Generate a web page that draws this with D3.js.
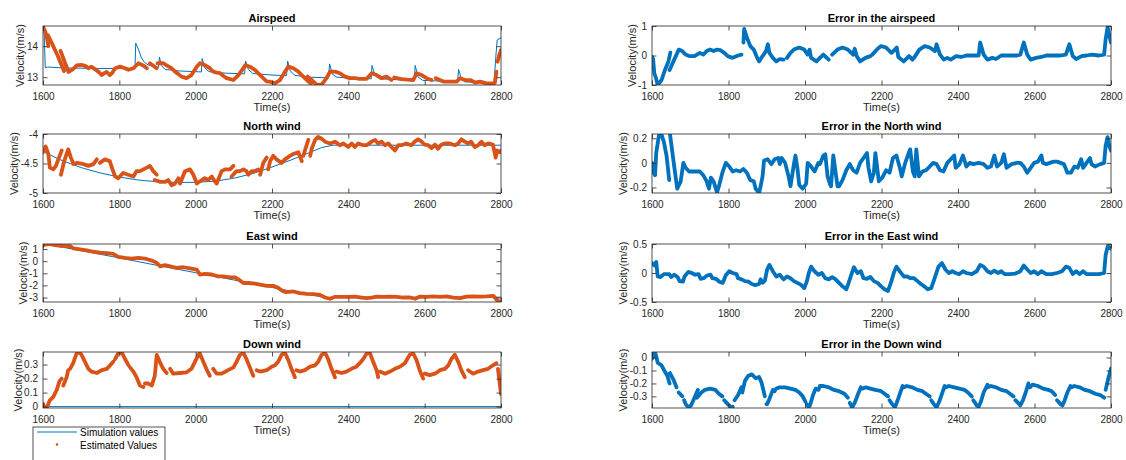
<!DOCTYPE html>
<html>
<head>
<meta charset="utf-8">
<script src="https://cdn.jsdelivr.net/npm/d3@7"></script>
<style>
  body { margin: 0; background: #fff; }
  svg text { font-family: "Liberation Sans", Arial, Helvetica, sans-serif; }
</style>
</head>
<body>
<svg id="fig" width="1126" height="460"></svg>
<script>
// ---- shared axis data ----
const timeTicks = [1600, 1800, 2000, 2200, 2400, 2600, 2800];
const timeDomain = [1600, 2800];

// ---- Airspeed (m/s): [time, value], null = break in the estimate trace ----
const airspeedSim = [[1600,14.6],[1603,14.45],[1606,13.3],[1612,13.33],[1650,13.3],[1700,13.29],[1750,13.28],[1800,13.28],[1841,13.28],[1843,14.1],[1850,13.9],[1858,13.62],[1866,13.48],[1875,13.4],[1890,13.34],[1903,13.32],[1905,13.65],[1910,13.38],[1920,13.25],[1960,13.2],[2000,13.18],[2015,13.17],[2017,13.6],[2024,13.3],[2035,13.18],[2080,13.13],[2128,13.11],[2131,13.52],[2138,13.25],[2150,13.12],[2200,13.07],[2238,13.05],[2241,13.52],[2248,13.2],[2260,13.06],[2300,13.0],[2348,12.98],[2351,13.43],[2358,13.1],[2370,13.0],[2420,12.97],[2460,12.95],[2462,13.38],[2470,13.05],[2482,12.95],[2530,12.92],[2573,12.9],[2575,13.38],[2583,13.0],[2595,12.9],[2650,12.87],[2686,12.86],[2689,13.25],[2696,12.95],[2705,12.85],[2750,12.83],[2782,12.82],[2786,13.6],[2790,14.2],[2800,14.27]];
const airspeedEst = [[1600,14.64],[1605,14.5],[1610,14.3],[1614,14.0],null,
  [1613,14.35],[1625,14.05],[1640,13.65],[1655,13.2],null,
  [1646,13.85],[1658,13.45],[1667,13.17],[1678,13.25],[1688,13.38],[1700,13.4],[1712,13.36],[1719,13.29],[1727,13.34],[1736,13.26],[1745,13.18],[1754,13.07],[1762,13.14],[1767,13.17],[1775,13.07],[1782,13.15],[1789,13.29],[1802,13.34],[1815,13.29],[1824,13.24],[1837,13.29],[1850,13.45],[1863,13.38],[1872,13.29],null,
  [1880,13.45],[1890,13.36],[1898,13.29],null,
  [1900,13.45],[1915,13.45],[1924,13.38],[1937,13.29],[1946,13.18],[1955,13.1],[1963,13.02],[1976,12.97],[1989,13.07],[2003,13.34],[2011,13.45],[2024,13.39],[2037,13.29],[2046,13.18],[2055,13.15],[2064,13.13],[2072,13.05],[2081,12.97],[2099,12.91],[2112,13.07],[2125,13.29],[2130,13.39],[2142,13.34],[2155,13.24],[2169,13.07],[2182,12.91],[2187,12.86],null,
  [2193,12.86],[2208,12.81],[2221,12.91],[2234,13.18],[2243,13.34],[2256,13.29],[2269,13.18],[2278,13.07],[2291,12.91],[2302,12.8],null,
  [2293,13.02],[2305,12.9],[2317,12.76],[2330,12.76],[2343,12.97],[2352,13.18],[2365,13.18],[2378,13.13],[2391,13.02],[2404,12.97],[2417,12.97],[2430,12.95],[2448,12.95],[2461,13.13],[2474,13.07],[2487,12.97],[2500,13.02],[2513,12.91],null,
  [2520,12.99],[2540,12.94],[2555,12.92],[2570,12.91],[2579,13.13],[2592,13.07],[2605,12.97],[2618,12.91],null,
  [2629,12.97],[2649,12.86],[2665,12.86],[2684,12.86],[2693,12.97],[2706,12.91],[2719,12.91],[2732,12.83],[2745,12.86],[2762,12.8],[2780,12.8],[2784,12.82],[2788,13.18],null,
  [2791,13.5],[2795,13.7],[2800,13.87]];

// ---- North wind (m/s) ----
const northSim = [[1600,-4.3],[1650,-4.45],[1700,-4.57],[1750,-4.66],[1800,-4.73],[1850,-4.78],[1900,-4.81],[1950,-4.82],[2000,-4.82],[2050,-4.8],[2100,-4.75],[2150,-4.67],[2200,-4.56],[2250,-4.44],[2300,-4.31],[2330,-4.23],[2360,-4.19],[2400,-4.19],[2600,-4.19],[2800,-4.19]];
const northEst = [[1600,-4.31],[1607,-4.21],[1614,-4.34],[1618,-4.57],[1627,-4.6],[1634,-4.54],[1640,-4.43],[1649,-4.28],null,
  [1647,-4.69],[1656,-4.45],[1666,-4.26],[1673,-4.4],[1680,-4.51],[1690,-4.49],[1706,-4.51],[1719,-4.54],[1732,-4.51],[1741,-4.43],null,
  [1749,-4.49],[1762,-4.43],[1775,-4.46],[1782,-4.6],[1789,-4.72],[1797,-4.75],[1810,-4.66],[1823,-4.69],[1837,-4.72],[1845,-4.63],[1854,-4.63],[1872,-4.57],[1880,-4.54],[1889,-4.63],[1898,-4.69],null,
  [1893,-4.78],[1906,-4.81],[1920,-4.81],[1928,-4.78],[1937,-4.87],[1946,-4.84],[1955,-4.75],null,
  [1959,-4.84],[1972,-4.63],[1985,-4.6],[1994,-4.69],[2003,-4.84],[2016,-4.78],[2024,-4.75],[2033,-4.78],[2042,-4.72],[2051,-4.81],null,
  [2055,-4.84],[2068,-4.63],[2077,-4.6],[2090,-4.6],[2099,-4.54],null,
  [2094,-4.72],[2107,-4.63],[2116,-4.63],[2125,-4.6],[2133,-4.63],[2138,-4.69],[2147,-4.63],[2155,-4.63],[2164,-4.6],null,
  [2169,-4.69],[2177,-4.49],[2186,-4.4],null,
  [2190,-4.6],[2195,-4.46],[2203,-4.37],[2212,-4.43],[2225,-4.49],[2234,-4.43],[2247,-4.37],[2256,-4.34],[2269,-4.31],[2278,-4.46],null,
  [2282,-4.37],[2295,-4.1],null,
  [2300,-4.37],[2304,-4.25],[2313,-4.1],[2321,-4.05],[2330,-4.08],[2339,-4.13],[2352,-4.16],[2365,-4.13],[2378,-4.19],[2387,-4.16],[2400,-4.22],[2409,-4.16],[2417,-4.22],[2426,-4.16],[2439,-4.19],[2448,-4.19],[2461,-4.13],[2470,-4.1],[2478,-4.16],[2487,-4.13],[2496,-4.19],[2505,-4.16],[2513,-4.22],[2522,-4.28],[2531,-4.19],[2539,-4.19],[2552,-4.16],[2565,-4.19],[2574,-4.13],[2583,-4.09],[2592,-4.13],[2600,-4.18],[2609,-4.19],[2618,-4.24],[2627,-4.18],[2635,-4.25],[2644,-4.18],[2653,-4.16],[2666,-4.16],[2679,-4.19],[2688,-4.16],[2696,-4.09],[2705,-4.13],[2714,-4.16],[2722,-4.13],[2731,-4.22],[2740,-4.19],[2749,-4.13],[2757,-4.19],[2766,-4.16],[2779,-4.18],[2786,-4.4],[2790,-4.28],[2797,-4.31],[2800,-4.28]];

// ---- East wind (m/s) ----
const eastSim = [[1600,1.45],[1700,0.87],[1800,0.27],[1900,-0.35],[2000,-0.95],[2100,-1.55],[2200,-2.17],[2300,-2.77],[2340,-3.0],[2360,-3.0],[2500,-2.98],[2800,-2.97]];
const eastEst = [[1600,1.33],[1610,1.38],[1615,1.42],[1631,1.33],[1653,1.25],[1671,1.25],[1680,1.05],[1697,0.97],[1714,0.9],[1732,0.78],[1749,0.7],[1767,0.67],[1784,0.6],[1797,0.36],[1815,0.28],[1832,0.22],[1850,0.28],[1867,0.22],[1885,0.05],[1898,-0.14],[1907,-0.42],[1920,-0.33],[1933,-0.42],[1950,-0.55],[1968,-0.5],[1985,-0.6],[2003,-0.7],[2011,-1.1],[2024,-1.05],[2042,-1.1],[2059,-1.25],[2072,-1.25],[2090,-1.33],[2103,-1.33],[2112,-1.5],[2125,-1.8],[2138,-1.8],[2155,-1.86],[2169,-1.94],[2186,-2.03],[2203,-2.03],[2216,-2.2],[2230,-2.5],[2238,-2.55],[2256,-2.5],[2273,-2.64],[2291,-2.7],[2308,-2.72],[2326,-2.78],[2339,-3.0],[2352,-3.1],[2365,-2.94],[2382,-2.94],[2400,-2.94],[2417,-2.92],[2435,-3.0],[2448,-3.05],[2461,-3.0],[2474,-2.92],[2492,-2.94],[2509,-2.92],[2527,-2.94],[2544,-3.0],[2562,-3.0],[2575,-3.1],[2588,-2.92],[2605,-2.94],[2623,-2.9],[2640,-2.94],[2658,-2.9],[2675,-3.0],[2693,-3.05],[2710,-2.92],[2727,-2.9],[2745,-2.92],[2762,-2.9],[2780,-2.86],[2789,-3.2],[2797,-3.38],[2800,-3.33]];

// ---- Down wind (m/s) ----
const downSim = [[1600,0],[2800,0]];
const downEst = [[1600,0.02],[1605,-0.015],[1610,-0.01],[1614,0.02],[1618,0.045],[1627,0.07],[1636,0.12],[1643,0.18],[1649,0.2],null,
  [1653,0.15],[1662,0.21],[1666,0.26],null,
  [1671,0.27],[1679,0.31],[1688,0.38],[1694,0.39],[1701,0.37],[1710,0.32],[1719,0.27],[1727,0.25],[1741,0.24],[1754,0.26],[1767,0.27],[1776,0.295],[1784,0.32],null,
  [1789,0.34],[1797,0.38],[1806,0.39],[1815,0.34],[1824,0.295],null,
  [1828,0.28],[1837,0.25],[1845,0.21],[1854,0.15],[1863,0.14],null,
  [1867,0.165],[1876,0.165],[1885,0.15],[1893,0.22],[1898,0.37],[1906,0.32],[1915,0.27],[1924,0.24],null,
  [1933,0.27],[1941,0.235],[1959,0.24],[1976,0.245],[1989,0.27],[1998,0.32],[2007,0.37],[2011,0.38],[2020,0.32],[2028,0.27],[2037,0.22],null,
  [2046,0.27],[2055,0.235],[2068,0.235],[2085,0.26],[2099,0.28],[2107,0.32],[2116,0.37],[2125,0.385],[2133,0.34],[2142,0.28],[2151,0.22],null,
  [2160,0.26],[2169,0.25],[2186,0.26],[2199,0.285],[2208,0.295],[2216,0.32],[2225,0.37],[2234,0.385],[2243,0.33],[2251,0.27],[2260,0.21],null,
  [2264,0.26],[2273,0.25],[2286,0.26],[2300,0.285],[2313,0.295],[2321,0.32],[2330,0.37],[2339,0.385],[2347,0.34],[2356,0.27],[2365,0.21],null,
  [2369,0.25],[2382,0.24],[2395,0.25],[2408,0.27],[2421,0.285],[2430,0.31],[2439,0.34],[2448,0.38],[2457,0.38],[2465,0.32],[2474,0.26],[2478,0.21],null,
  [2483,0.25],[2496,0.235],[2509,0.25],[2522,0.27],[2535,0.285],[2548,0.31],[2561,0.37],[2570,0.38],[2579,0.33],[2587,0.26],[2596,0.2],null,
  [2600,0.235],[2613,0.225],[2627,0.235],[2640,0.26],[2653,0.27],[2662,0.295],[2670,0.34],[2679,0.37],[2688,0.32],[2696,0.26],[2705,0.21],null,
  [2714,0.26],[2727,0.235],[2740,0.25],[2753,0.26],[2766,0.27],[2779,0.295],[2788,0.31],null,
  [2792,0.27],[2796,0.18],[2800,0.09]];

// ---- Estimation errors (m/s) ----
const errAirspeed = [[1600,-0.05],[1603,-0.12],[1606,-0.6],[1610,-0.75],[1615,-1.0],[1625,-0.83],[1634,-0.49],[1643,-0.2],[1648,0.1],null,
  [1646,-0.49],[1656,-0.2],[1670,0.2],[1679,0.15],[1688,0.03],[1697,-0.02],[1711,-0.02],[1725,0.09],[1734,0.03],[1743,0.15],[1752,0.2],[1761,0.15],[1770,0.2],[1779,0.18],[1789,0.09],[1798,-0.02],[1811,-0.08],[1825,0],[1834,0.03],null,
  [1839,0.44],[1841,0.9],[1848,0.61],[1857,0.32],[1866,0.2],[1875,-0.08],[1880,-0.2],[1889,-0.02],[1898,0.15],[1903,0.38],[1907,0.09],[1916,-0.08],[1925,-0.2],[1934,-0.12],[1944,-0.14],null,
  [1953,-0.08],[1962,0.09],[1971,0.2],[1985,0.27],[1998,0.2],[2007,0.03],[2012,0.2],[2016,-0.08],[2030,-0.2],[2039,-0.08],[2048,0.03],[2057,-0.08],[2062,-0.14],null,
  [2071,0.03],[2085,0.2],[2098,0.27],[2112,0.2],[2126,0.03],[2130,0.23],[2135,-0.02],[2144,-0.2],[2158,-0.08],[2171,-0.02],null,
  [2176,0.03],[2190,0.23],[2199,0.32],[2212,0.27],[2226,0.09],[2235,0.2],[2240,0.27],[2244,-0.05],[2258,-0.2],[2272,-0.02],[2281,-0.14],null,
  [2285,-0.08],[2299,0.2],[2313,0.32],[2326,0.27],[2340,0.15],[2344,0.38],[2353,0.03],[2363,-0.14],[2372,-0.08],[2381,-0.14],[2395,-0.02],[2408,-0.05],[2422,0],[2440,0],[2454,0],[2458,0.44],[2467,0.03],[2477,-0.14],[2490,-0.08],[2499,-0.12],[2513,0],[2531,0],[2554,0],[2563,0.03],[2572,0.44],[2581,0.03],[2590,-0.14],[2604,-0.08],[2618,-0.05],[2631,0],[2650,0],[2668,0],[2682,0.03],[2691,0.38],[2700,-0.02],[2709,-0.12],[2723,-0.02],[2736,0],[2750,0.03],[2768,0],[2782,0.03],[2786,0.55],[2791,0.96],[2795,0.73],[2800,0.44]];
const errNorth = [[1600,0],[1604,-0.08],[1608,-0.1],[1611,0.08],[1618,0.22],[1625,0.23],[1631,0.17],[1638,0.06],[1645,-0.14],null,
  [1647,0.235],[1656,0.02],[1666,-0.21],[1675,-0.15],[1682,0],[1688,-0.04],[1697,-0.07],[1711,-0.07],[1725,-0.07],[1734,-0.1],[1743,-0.15],[1749,-0.21],[1754,-0.12],[1761,-0.15],[1770,-0.24],[1775,-0.19],[1784,-0.08],[1793,0],[1802,-0.03],[1811,-0.07],[1820,-0.06],[1830,-0.07],[1839,-0.05],[1848,-0.08],[1857,-0.14],[1866,-0.15],[1871,-0.21],[1880,-0.245],[1884,-0.19],[1889,-0.11],[1893,0.02],[1902,0.03],[1912,-0.01],[1921,0.03],[1930,0.04],[1934,-0.01],[1939,0.04],[1948,0],[1957,-0.11],[1962,-0.19],[1966,-0.11],[1971,-0.01],[1975,0.06],[1980,-0.04],[1985,-0.18],[1994,-0.21],[2003,-0.17],[2007,0],[2016,-0.03],[2025,-0.07],[2035,0],[2039,-0.01],[2048,0.06],[2053,0.07],[2059,-0.11],[2065,-0.17],[2068,-0.19],[2074,0.06],[2085,-0.19],[2089,-0.19],[2098,-0.14],[2108,-0.06],[2117,-0.01],[2126,-0.06],[2135,-0.08],[2144,0],[2153,0.04],[2162,0.08],[2166,-0.04],[2173,-0.15],[2180,-0.08],[2184,0.08],[2193,-0.15],[2202,-0.12],[2212,-0.06],[2221,-0.08],[2230,0.04],[2239,0.06],[2248,-0.04],[2253,-0.11],[2262,0],[2271,0.08],[2275,0.11],[2282,-0.07],[2287,-0.11],[2291,0.11],[2298,-0.11],[2307,-0.07],[2316,-0.06],[2326,-0.03],[2335,0],[2344,-0.01],[2353,-0.06],[2362,-0.07],[2372,0],[2381,0.03],[2390,0.06],[2394,-0.04],[2404,-0.01],[2413,0.06],[2422,-0.03],[2431,0],[2440,-0.01],[2454,0],[2467,-0.01],[2477,-0.04],[2486,-0.03],[2495,0.06],[2502,-0.03],[2513,0],[2520,0.07],[2527,-0.04],[2540,-0.01],[2554,0],[2563,0],[2572,-0.03],[2581,-0.08],[2590,-0.04],[2599,0],[2609,0.01],[2618,0.06],[2622,0],[2631,-0.01],[2640,0],[2650,0.01],[2659,0.01],[2668,0],[2677,-0.01],[2686,-0.08],[2695,-0.08],[2704,-0.03],[2713,-0.04],[2722,0.03],[2727,-0.04],[2736,0],[2745,0.04],[2749,-0.01],[2758,-0.03],[2772,-0.01],[2782,0],[2786,0.14],[2791,0.21],[2795,0.14],[2800,0.1]];
const errEast = [[1600,0.17],[1606,0.13],[1611,0.19],[1615,-0.06],[1622,-0.07],[1631,-0.02],[1645,-0.02],[1650,-0.07],[1658,-0.03],[1667,-0.07],[1672,-0.14],[1681,-0.15],[1685,-0.06],[1695,0.02],[1704,0],[1713,-0.03],[1722,-0.02],[1727,-0.1],[1735,-0.09],[1745,-0.04],[1753,-0.03],[1758,-0.09],[1767,-0.1],[1776,-0.15],[1785,-0.17],[1793,-0.04],[1802,0.03],[1811,0],[1821,-0.02],[1825,-0.09],[1834,-0.11],[1843,-0.14],[1852,-0.15],[1861,-0.19],[1870,-0.21],[1880,-0.19],[1884,-0.11],[1889,-0.17],[1895,-0.13],[1901,0.06],[1907,0.14],[1916,0.03],[1925,-0.06],[1934,-0.03],[1944,-0.11],[1953,-0.06],[1962,-0.09],[1971,-0.14],[1980,-0.17],[1989,-0.2],[1998,-0.26],[2005,-0.14],[2010,0],[2016,0.11],[2025,0.03],[2035,-0.03],[2044,0],[2053,-0.09],[2062,-0.11],[2071,-0.07],[2080,-0.11],[2089,-0.17],[2098,-0.23],[2108,-0.28],[2114,-0.17],[2121,-0.03],[2128,0.1],[2137,0],[2146,0.03],[2153,-0.09],[2162,-0.1],[2171,-0.07],[2180,-0.14],[2190,-0.17],[2199,-0.23],[2208,-0.28],[2217,-0.31],[2226,-0.14],[2232,0],[2239,0.11],[2248,0.03],[2258,-0.06],[2267,-0.06],[2276,-0.09],[2285,-0.09],[2294,-0.14],[2303,-0.19],[2312,-0.23],[2321,-0.28],[2330,-0.26],[2339,-0.09],[2349,0.11],[2358,0.17],[2367,0.06],[2376,0],[2385,0.03],[2394,0],[2403,-0.02],[2413,0.03],[2422,0],[2436,-0.02],[2449,0.03],[2458,0.14],[2467,0.11],[2477,0.03],[2486,0],[2495,0.04],[2504,0],[2513,0.03],[2522,-0.02],[2536,-0.02],[2550,-0.01],[2563,0.03],[2572,0.13],[2581,0.06],[2590,0],[2599,0.03],[2609,-0.02],[2618,0.03],[2631,-0.02],[2645,-0.02],[2659,0],[2672,0.03],[2682,0.11],[2691,0.09],[2700,-0.02],[2709,0.03],[2718,-0.02],[2727,0.03],[2736,-0.02],[2750,-0.02],[2768,-0.02],[2782,0],[2786,0.31],[2791,0.45],[2795,0.45],[2800,0.42]];
const errDown = [[1600,-0.01],[1604,0.02],[1608,0.04],[1611,0.01],[1615,-0.04],[1625,-0.06],[1634,-0.11],[1640,-0.14],[1646,-0.2],null,
  [1647,-0.12],[1656,-0.17],[1664,-0.23],null,
  [1670,-0.27],[1679,-0.3],null,
  [1684,-0.33],[1688,-0.36],[1695,-0.385],[1702,-0.37],[1711,-0.31],[1720,-0.25],null,
  [1718,-0.31],[1729,-0.27],[1738,-0.25],[1752,-0.24],[1766,-0.25],[1775,-0.28],[1784,-0.3],null,
  [1789,-0.33],[1798,-0.36],[1807,-0.385],[1811,-0.38],null,
  [1816,-0.33],[1825,-0.29],[1834,-0.23],null,
  [1836,-0.27],[1843,-0.18],[1852,-0.14],[1861,-0.13],[1871,-0.16],[1880,-0.15],[1886,-0.19],[1891,-0.25],[1895,-0.3],null,
  [1899,-0.36],[1901,-0.36],[1907,-0.32],[1916,-0.25],[1921,-0.26],null,
  [1925,-0.24],[1934,-0.23],[1948,-0.23],[1962,-0.24],[1975,-0.25],[1985,-0.27],[1994,-0.3],[2001,-0.34],null,
  [2005,-0.36],[2010,-0.385],[2014,-0.36],[2021,-0.29],[2028,-0.24],null,
  [2035,-0.25],[2039,-0.22],[2048,-0.22],[2062,-0.23],[2075,-0.25],[2089,-0.26],[2103,-0.28],[2112,-0.31],null,
  [2117,-0.35],[2123,-0.385],[2130,-0.35],[2139,-0.28],[2146,-0.23],null,
  [2150,-0.24],[2159,-0.23],[2171,-0.24],[2184,-0.25],[2199,-0.26],[2208,-0.28],[2217,-0.3],null,
  [2221,-0.33],[2228,-0.36],[2235,-0.385],[2241,-0.34],[2248,-0.28],[2255,-0.22],null,
  [2259,-0.23],[2266,-0.22],[2280,-0.23],[2294,-0.25],[2307,-0.26],[2316,-0.28],[2326,-0.3],null,
  [2330,-0.33],[2337,-0.36],[2344,-0.385],[2351,-0.34],[2358,-0.28],[2365,-0.22],null,
  [2369,-0.23],[2376,-0.22],[2390,-0.23],[2404,-0.24],[2417,-0.25],[2426,-0.27],[2436,-0.3],null,
  [2440,-0.33],[2449,-0.37],[2454,-0.38],[2460,-0.34],[2467,-0.27],[2477,-0.21],null,
  [2478,-0.23],[2486,-0.22],[2499,-0.23],[2513,-0.25],[2527,-0.26],[2536,-0.28],[2545,-0.3],null,
  [2550,-0.33],[2557,-0.35],[2563,-0.37],[2570,-0.33],[2577,-0.27],[2584,-0.2],null,
  [2588,-0.23],[2595,-0.21],[2609,-0.22],[2622,-0.24],[2636,-0.25],[2645,-0.26],[2654,-0.29],null,
  [2659,-0.33],[2668,-0.36],[2673,-0.37],[2679,-0.33],[2686,-0.27],[2694,-0.22],null,
  [2697,-0.23],[2704,-0.22],[2718,-0.23],[2731,-0.25],[2745,-0.26],[2759,-0.28],[2772,-0.29],null,
  [2777,-0.3],[2782,-0.31],null,
  [2786,-0.25],[2793,-0.16],[2800,-0.085]];

// ---- y-axis tick values per subplot ----
const airspeedTicks = [13, 14];
const northTicks = [-5, -4.5, -4];
const eastTicks = [-3, -2, -1, 0, 1];
const downTicks = [0, 0.1, 0.2, 0.3];
const errAirspeedTicks = [-1, 0, 1];
const errNorthTicks = [-0.2, 0, 0.2];
const errEastTicks = [-0.5, 0, 0.5];
const errDownTicks = [-0.3, -0.2, -0.1, 0];

const legendLabels = ["Simulation values", "Estimated Values"];

// ---- layout ----
const BLUE = "#0072BD", ORANGE = "#D95319", INK = "#262626";
const cols = [{ x0: 43, x1: 501 }, { x0: 652, x1: 1111 }];
const rows = [{ y0: 26, y1: 85 }, { y0: 134, y1: 193 }, { y0: 244, y1: 302 }, { y0: 352, y1: 408 }];

const panels = [
  { col: 0, row: 0, title: "Airspeed", yd: [12.75, 14.65], ticks: airspeedTicks, sim: airspeedSim, est: airspeedEst, color: ORANGE },
  { col: 0, row: 1, title: "North wind", yd: [-5, -4], ticks: northTicks, sim: northSim, est: northEst, color: ORANGE },
  { col: 0, row: 2, title: "East wind", yd: [-3.37, 1.42], ticks: eastTicks, sim: eastSim, est: eastEst, color: ORANGE },
  { col: 0, row: 3, title: "Down wind", yd: [-0.01, 0.39], ticks: downTicks, sim: downSim, est: downEst, color: ORANGE },
  { col: 1, row: 0, title: "Error in the airspeed", yd: [-1, 1], ticks: errAirspeedTicks, sim: null, est: errAirspeed, color: BLUE },
  { col: 1, row: 1, title: "Error in the North wind", yd: [-0.245, 0.235], ticks: errNorthTicks, sim: null, est: errNorth, color: BLUE },
  { col: 1, row: 2, title: "Error in the East wind", yd: [-0.5, 0.5], ticks: errEastTicks, sim: null, est: errEast, color: BLUE },
  { col: 1, row: 3, title: "Error in the Down wind", yd: [-0.39, 0.043], ticks: errDownTicks, sim: null, est: errDown, color: BLUE }
];

const svg = d3.select("#fig");
const fmt = v => String(+v.toFixed(2));
const TL = 4.5; // inward tick length

panels.forEach((p, i) => {
  const c = cols[p.col], r = rows[p.row];
  const x = d3.scaleLinear().domain(timeDomain).range([c.x0, c.x1]);
  const y = d3.scaleLinear().domain(p.yd).range([r.y1, r.y0]);
  const g = svg.append("g");

  const clipId = "clip" + i;
  svg.append("clipPath").attr("id", clipId)
    .append("rect").attr("x", c.x0).attr("y", r.y0)
    .attr("width", c.x1 - c.x0).attr("height", r.y1 - r.y0);

  const line = d3.line().defined(d => d !== null).x(d => x(d[0])).y(d => y(d[1]));
  const plot = g.append("g").attr("clip-path", `url(#${clipId})`);

  if (p.sim) {
    plot.append("path").datum(p.sim).attr("d", line)
      .attr("fill", "none").attr("stroke", BLUE).attr("stroke-width", 1);
  }
  plot.append("path").datum(p.est).attr("d", line)
    .attr("fill", "none").attr("stroke", p.color).attr("stroke-width", 3.8)
    .attr("stroke-linecap", "round").attr("stroke-linejoin", "round");

  // axes: labelled bottom/left, tick-only top/right
  const styleAxis = sel => {
    sel.select(".domain").remove();
    sel.selectAll(".tick line").attr("stroke", INK).attr("stroke-width", 0.8);
    sel.selectAll(".tick text").attr("fill", INK).attr("font-size", 10)
      .attr("font-family", '"Liberation Sans", Arial, sans-serif');
  };
  g.append("g").attr("transform", `translate(0,${r.y1})`)
    .call(d3.axisBottom(x).tickValues(timeTicks).tickFormat(d3.format("d"))
      .tickSizeInner(-TL).tickSizeOuter(0).tickPadding(7.5)).call(styleAxis);
  g.append("g").attr("transform", `translate(0,${r.y0})`)
    .call(d3.axisTop(x).tickValues(timeTicks).tickFormat("")
      .tickSizeInner(-TL).tickSizeOuter(0)).call(styleAxis);
  const yAxisG = g.append("g").attr("transform", `translate(${c.x0},0)`)
    .call(d3.axisLeft(y).tickValues(p.ticks).tickFormat(fmt)
      .tickSizeInner(-TL).tickSizeOuter(0).tickPadding(5)).call(styleAxis);
  g.append("g").attr("transform", `translate(${c.x1},0)`)
    .call(d3.axisRight(y).tickValues(p.ticks).tickFormat("")
      .tickSizeInner(-TL).tickSizeOuter(0)).call(styleAxis);

  g.append("rect").attr("x", c.x0).attr("y", r.y0)
    .attr("width", c.x1 - c.x0).attr("height", r.y1 - r.y0)
    .attr("fill", "none").attr("stroke", INK).attr("stroke-width", 0.8);

  const cx = (c.x0 + c.x1) / 2, cy = (r.y0 + r.y1) / 2;
  g.append("text").attr("x", cx).attr("y", r.y0 - 4.5).attr("text-anchor", "middle")
    .attr("font-size", 11).attr("font-weight", "bold").attr("fill", "#000").text(p.title);
  g.append("text").attr("x", cx).attr("y", r.y1 + 26).attr("text-anchor", "middle")
    .attr("font-size", 11).attr("fill", INK).text("Time(s)");

  // y label sits just left of the widest tick label
  let maxW = 0;
  yAxisG.selectAll(".tick text").each(function () { maxW = Math.max(maxW, this.getComputedTextLength()); });
  const labCenter = c.x0 - 5 - maxW - 6.5;
  g.append("text").attr("transform", `translate(${labCenter + 4},${cy}) rotate(-90)`)
    .attr("text-anchor", "middle").attr("font-size", 11).attr("fill", INK).text("Velocity(m/s)");
});

// ---- legend (lower left) ----
const lg = svg.append("g");
lg.append("rect").attr("x", 33).attr("y", 427).attr("width", 132).attr("height", 45)
  .attr("fill", "#fff").attr("stroke", INK).attr("stroke-width", 0.8);
lg.append("line").attr("x1", 37).attr("x2", 77).attr("y1", 432).attr("y2", 432)
  .attr("stroke", BLUE).attr("stroke-width", 1);
lg.append("circle").attr("cx", 57).attr("cy", 444.5).attr("r", 1.3).attr("fill", ORANGE);
lg.selectAll("text.lbl").data(legendLabels).enter().append("text")
  .attr("x", 80).attr("y", (d, i) => 435.5 + i * 13.5)
  .attr("font-size", 10).attr("fill", "#000").text(d => d);
</script>
</body>
</html>
